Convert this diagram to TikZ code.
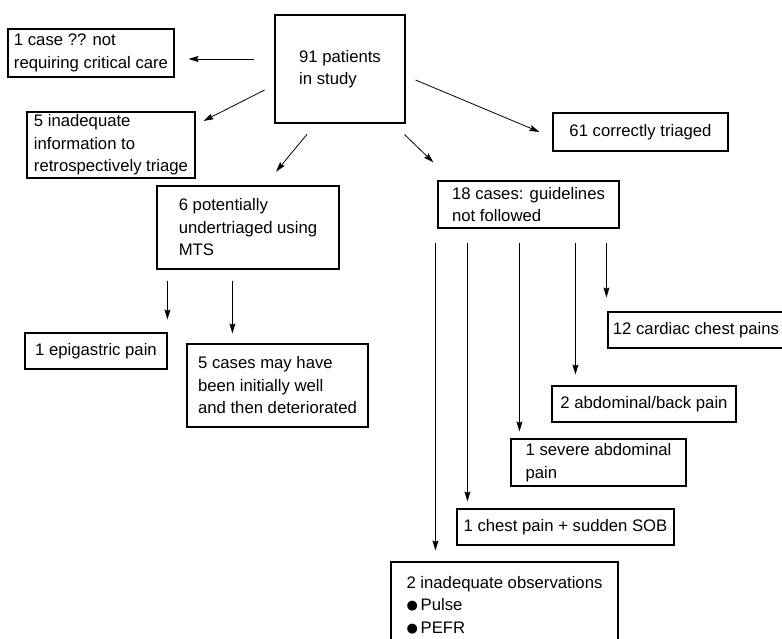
\documentclass[tikz,border=0pt]{standalone}
\usepackage{fontspec}
\setmainfont{Liberation Sans}
\newfontfamily\symfont{DejaVu Sans}
\usetikzlibrary{arrows.meta}

\tikzset{
  box/.style={draw, line width=1.1pt, align=left, inner sep=0pt,
    font=\fontsize{16.7}{22.5}\selectfont},
  arr/.style={line width=0.8pt, -{Stealth[length=10pt,width=6pt,inset=1.5pt]}}
}
\newcommand{\blt}{{\symfont\fontsize{13}{22}\selectfont\raisebox{1pt}{●}}}

\begin{document}
\begin{tikzpicture}[x=1pt,y=-1pt]
\useasboundingbox (0,0) rectangle (782,639);

% boxes
\node[box, minimum width=130pt, minimum height=108pt] (study) at (340,69) {91 patients\\in study};
\node[box, minimum width=166pt, minimum height=48pt] (onecase) at (91,53) {1 case ?? not\\requiring critical care};
\node[box, minimum width=168pt, minimum height=66pt] (inadeq) at (111,145) {5 inadequate\\information to\\retrospectively triage};
\node[box, minimum width=182pt, minimum height=83pt] (six) at (248,227.5) {6 potentially\\undertriaged using\\MTS};
\node[box, minimum width=175pt, minimum height=38pt] (correct) at (640.5,132) {61 correctly triaged};
\node[box, minimum width=181pt, minimum height=47pt] (guide) at (528.5,204.5) {18 cases: guidelines\\not followed};
\node[box, minimum width=142pt, minimum height=36pt] (epi) at (96,351) {1 epigastric pain};
\node[box, minimum width=181pt, minimum height=83pt] (five) at (277.5,385.5) {5 cases may have\\been initially well\\and then deteriorated};
\node[box, minimum width=176pt, minimum height=36pt] (cardiac) at (696,330) {12 cardiac chest pains};
\node[box, minimum width=184pt, minimum height=36pt] (abdback) at (644,404) {2 abdominal/back pain};
\node[box, minimum width=175pt, minimum height=47pt] (severe) at (598.5,462.5) {1 severe abdominal\\pain};
\node[box, minimum width=217pt, minimum height=36pt] (chest) at (565.5,527) {1 chest pain + sudden SOB};
\node[box, minimum width=227pt, minimum height=86pt] (obs) at (504.5,605) {2 inadequate observations\\\blt\,Pulse\\\blt\,PEFR};

% arrows from the study box
\draw[arr, shorten <=20pt, shorten >=14pt] ([yshift=10pt]study.west) -- ([yshift=-6pt]onecase.east);
\draw[arr, shorten <=11pt, shorten >=9pt] ([yshift=-16pt]study.west) -- ([yshift=20pt]inadeq.east);
\draw[arr, shorten <=14pt, shorten >=18pt] ([xshift=-24pt]study.south) -- ([xshift=16.6pt]six.north);
\draw[arr, shorten <=10.8pt, shorten >=14.1pt] ([yshift=-6.8pt]study.east) -- ([yshift=-5.4pt]correct.west);
\draw[arr, shorten <=15.8pt, shorten >=25.9pt] ([xshift=-12.4pt]study.south east) -- ([xshift=14.6pt]guide.north west);

% arrows from the MTS box
\draw[arr, shorten <=11pt, shorten >=13pt] ([xshift=11pt]six.south west) -- ([xshift=11pt]six.south west |- epi.north);
\draw[arr, shorten <=11pt, shorten >=10pt] ([xshift=76pt]six.south west) -- ([xshift=76pt]six.south west |- five.north);

% arrows from the guidelines box
\foreach \dx/\dest/\gap in {-2pt/obs/11pt, 30pt/chest/7pt, 82pt/severe/7pt, 138pt/abdback/11pt, 169pt/cardiac/14pt}
  \draw[arr, shorten <=14pt, shorten >=\gap] ([xshift=\dx]guide.south west) -- ([xshift=\dx]guide.south west |- \dest.north);
\end{tikzpicture}
\end{document}
